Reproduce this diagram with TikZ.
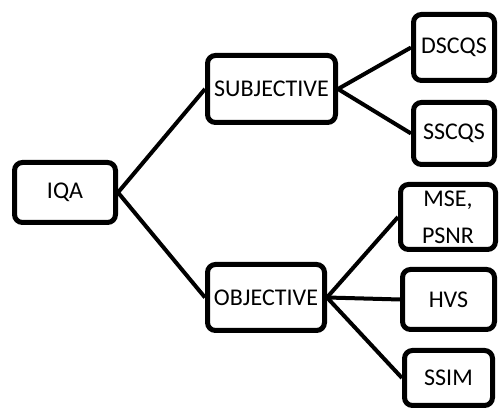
\documentclass[tikz,border=0pt]{standalone}
\usepackage{fontspec}
\setmainfont{Carlito}
\usepackage{tikz}
\usetikzlibrary{positioning}
\tikzset{
  qbox/.style={draw=black, line width=2.5pt, rounded corners=4pt, fill=white,
    inner sep=0pt, align=center, font=\fontsize{12}{18.5}\selectfont},
  link/.style={draw=black, line width=2pt}
}

\begin{document}
\begin{tikzpicture}[x=0.5pt,y=-0.5pt]
  \useasboundingbox (0,0) rectangle (499,410);
  \node[qbox, minimum width=50.5pt, minimum height=30pt] (iqa) at (65,192.5) {IQA};
  \node[qbox, minimum width=64pt, minimum height=33.5pt] (subj) at (271.5,89) {SUBJECTIVE};
  \node[qbox, minimum width=58.5pt, minimum height=33pt] (obj) at (266,297.5) {OBJECTIVE};
  % subjective methods
  \node[qbox, minimum width=40.5pt, minimum height=33pt] (dscqs) at (454,47.5) {DSCQS};
  \node[qbox, minimum width=40.5pt, minimum height=31pt] (sscqs) at (454,133.5) {SSCQS};
  % objective methods
  \node[qbox, minimum width=47.5pt, minimum height=32.5pt] (mse) at (448,217) {MSE,\\PSNR};
  \node[qbox, minimum width=46pt, minimum height=30pt] (hvs) at (448.5,299.5) {HVS};
  \node[qbox, minimum width=44pt, minimum height=27.5pt] (ssim) at (448.5,378) {SSIM};
  \draw[link] (iqa.east) -- (subj.west);
  \draw[link] (iqa.east) -- (obj.west);
  \draw[link] (subj.east) -- (dscqs.west);
  \draw[link] (subj.east) -- (sscqs.west);
  \draw[link] (obj.east) -- (mse.west);
  \draw[link] (obj.east) -- (hvs.west);
  \draw[link] (obj.east) -- (ssim.west);
\end{tikzpicture}
\end{document}
